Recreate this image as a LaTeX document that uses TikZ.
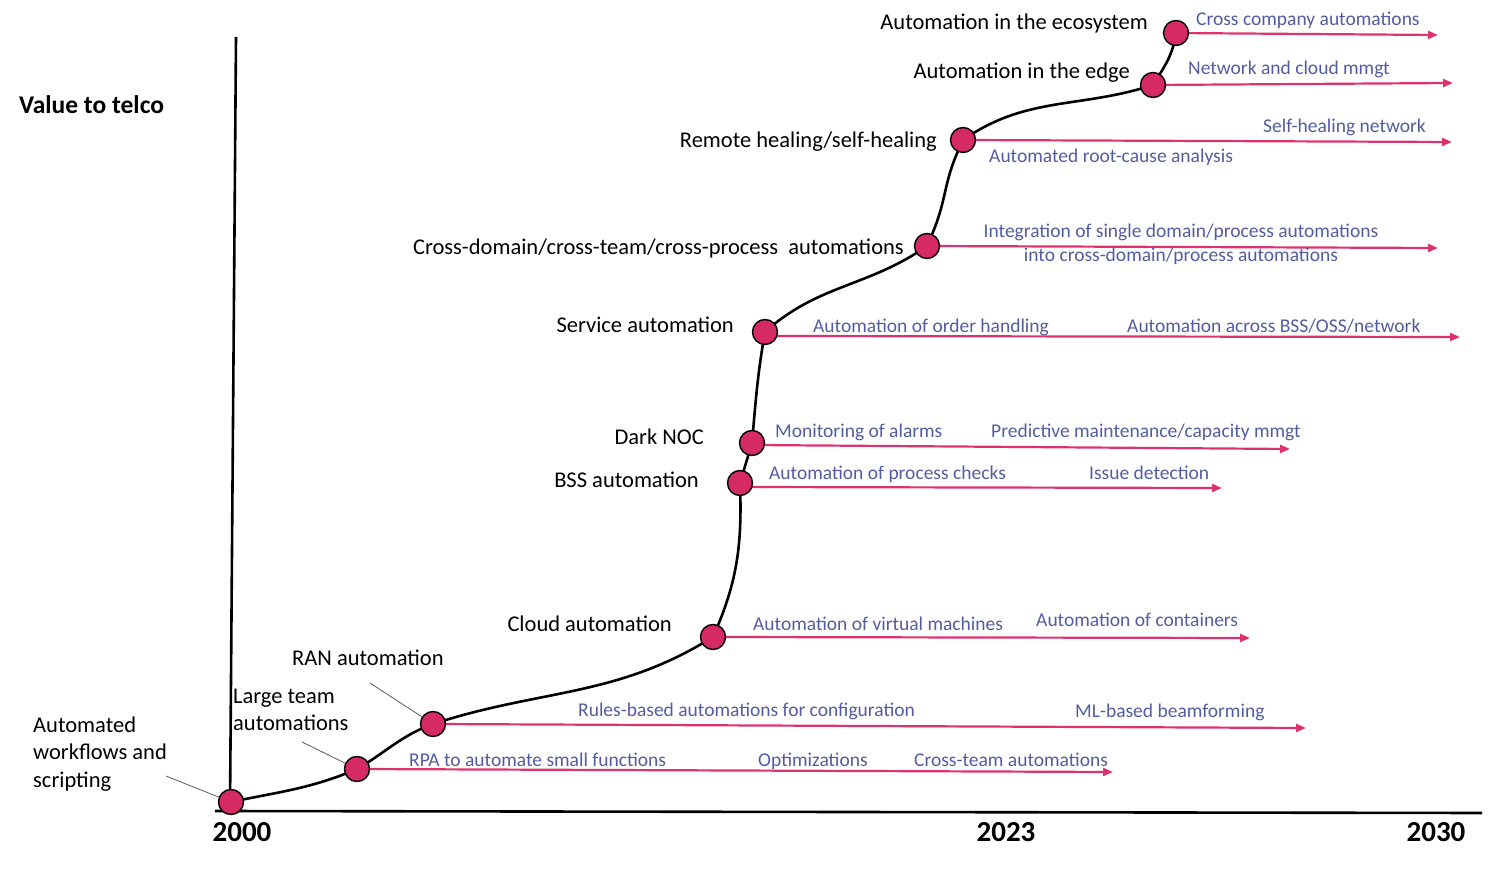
\documentclass[tikz,border=0pt]{standalone}
\usepackage{fontspec}
\setmainfont{Carlito}
\usetikzlibrary{arrows.meta}
\definecolor{dotred}{RGB}{214,42,100}
\definecolor{arrred}{RGB}{222,50,108}
\definecolor{txtblue}{RGB}{84,92,160}
\definecolor{leadgray}{RGB}{90,90,90}
\tikzset{
  dot/.style={circle,draw=black,line width=1.4pt,fill=dotred,minimum size=25pt,inner sep=0pt},
  curve/.style={line width=2.6pt,black},
  axis/.style={line width=2.6pt,black},
  arr/.style={line width=2.2pt,arrred,-{Triangle[length=10pt,width=8pt]}},
  lead/.style={line width=0.8pt,leadgray},
  blk/.style={inner sep=0pt,yshift=-5.5pt,font=\fontsize{22.5}{27.5}\selectfont,text height=0.7em,text depth=0.2em},
  blkml/.style={inner sep=0pt,font=\fontsize{22.5}{27.5}\selectfont,align=left},
  blu/.style={inner sep=0pt,yshift=-5pt,text=txtblue,font=\fontsize{19.5}{24}\selectfont,text height=0.7em,text depth=0.2em},
  year/.style={inner sep=0pt,font=\fontsize{29}{34}\selectfont\bfseries},
}
\begin{document}
\begin{tikzpicture}[x=1pt,y=1pt]
\useasboundingbox (0,0) rectangle (1500,868);
% axes
\coordinate (ytop) at (236,831);
\coordinate (ybot) at (230,60);
\coordinate (xbeg) at (215,57);
\coordinate (xend) at (1482,55);
\draw[axis] (ytop) -- (ybot);
\draw[axis] (xbeg) -- (xend);
% dots (positions)
\coordinate (p1) at (231,66);
\coordinate (p2) at (357,99);
\coordinate (p3) at (433,144);
\coordinate (p4) at (713,231);
\coordinate (p5) at (740,385);
\coordinate (p6) at (752,425);
\coordinate (p7) at (765,536);
\coordinate (p8) at (927,622);
\coordinate (p9) at (963,728);
\coordinate (p10) at (1153,783);
\coordinate (p11) at (1176,835);
% arrow starts that sit a little below the dot centre
\coordinate (s5) at (740,381);
\coordinate (s6) at (752,423);
\coordinate (s7) at (765,532);
% arrow ends
\coordinate (e2) at (1113,96);
\coordinate (e3) at (1306,140);
\coordinate (e4) at (1250,230);
\coordinate (e5) at (1222,380);
\coordinate (e6) at (1290,419);
\coordinate (e7) at (1460,531);
\coordinate (e8) at (1438,620);
\coordinate (e9) at (1452,726);
\coordinate (e10) at (1453,785);
\coordinate (e11) at (1438,833);
\draw[arr] (p2) -- (e2);
\draw[arr] (p3) -- (e3);
\draw[arr] (p4) -- (e4);
\draw[arr] (s5) -- (e5);
\draw[arr] (s6) -- (e6);
\draw[arr] (s7) -- (e7);
\draw[arr] (p8) -- (e8);
\draw[arr] (p9) -- (e9);
\draw[arr] (p10) -- (e10);
\draw[arr] (p11) -- (e11);
% curve
\draw[curve] (p1) to[out=12,in=203] (p2) to[out=30,in=200] (p3)
  to[out=18,in=212] (p4) to[out=66,in=-88] (p5) -- (p6)
  to[out=85,in=-100] (p7) to[out=42,in=215] (p8)
  .. controls (950,672) and (940,680) .. (p9)
  to[out=35,in=198] (p10) to[out=58,in=262] (p11);
\foreach \i in {1,...,11} \node[dot] (c\i) at (p\i) {};
% leaders
\coordinate (l1) at (166,92);
\coordinate (l2) at (302,126);
\coordinate (l3) at (370,185);
\draw[lead] (l1) -- (c1);
\draw[lead] (l2) -- (c2);
\draw[lead] (l3) -- (c3);
% black labels
\node[inner sep=0pt,anchor=west,yshift=-7pt,font=\fontsize{25.5}{30}\selectfont\bfseries,text height=0.7em,text depth=0.2em] (val) at (19,764) {Value to telco};
\node[blk,anchor=east] (t11) at (1148,846) {Automation in the ecosystem};
\node[blk,anchor=east] (t10) at (1130,797) {Automation in the edge};
\node[blk,anchor=east] (t9) at (937,728) {Remote healing/self-healing};
\node[blk,anchor=east] (t8) at (904,621) {Cross-domain/cross-team/cross-process\ \ automations};
\node[blk,anchor=east] (t7) at (734,543) {Service automation};
\node[blk,anchor=east] (t6) at (704,431) {Dark NOC};
\node[blk,anchor=east] (t5) at (699,388) {BSS automation};
\node[blk,anchor=east] (t4) at (672,244) {Cloud automation};
\node[blk,anchor=west] (t3) at (292,210) {RAN automation};
\node[blkml,anchor=west] (t2) at (233,158) {Large team\\automations};
\node[blkml,anchor=west] (t1) at (33,114) {Automated\\workflows and\\scripting};
% years
\node[year] (y2000) at (242,36) {2000};
\node[year] (y2023) at (1006,36) {2023};
\node[year] (y2030) at (1436,36) {2030};
% blue labels
\node[blu,anchor=west] (b11) at (1196,850) {Cross company automations};
\node[blu,anchor=west] (b10) at (1188,801) {Network and cloud mmgt};
\node[blu,anchor=east] (b9a) at (1426,743) {Self-healing network};
\node[blu,anchor=west] (b9b) at (989,713) {Automated root-cause analysis};
\node[inner sep=0pt,text=txtblue,font=\fontsize{19.5}{24}\selectfont,align=center] (b8) at (1181,624) {Integration of single domain/process automations\\into cross-domain/process automations};
\node[blu,anchor=west] (b7a) at (813,543) {Automation of order handling};
\node[blu,anchor=west] (b7b) at (1127,543) {Automation across BSS/OSS/network};
\node[blu,anchor=west] (b6a) at (775,438) {Monitoring of alarms};
\node[blu,anchor=west] (b6b) at (991,438) {Predictive maintenance/capacity mmgt};
\node[blu,anchor=west] (b5a) at (769,396) {Automation of process checks};
\node[blu,anchor=west] (b5b) at (1089,396) {Issue detection};
\node[blu,anchor=west] (b4a) at (753,245) {Automation of virtual machines};
\node[blu,anchor=west] (b4b) at (1036,249) {Automation of containers};
\node[blu,anchor=west] (b3a) at (578,159) {Rules-based automations for configuration};
\node[blu,anchor=west] (b3b) at (1075,158) {ML-based beamforming};
\node[blu,anchor=west] (b2a) at (409,109) {RPA to automate small functions};
\node[blu,anchor=west] (b2b) at (758,109) {Optimizations};
\node[blu,anchor=west] (b2c) at (914,109) {Cross-team automations};
\end{tikzpicture}
\end{document}
